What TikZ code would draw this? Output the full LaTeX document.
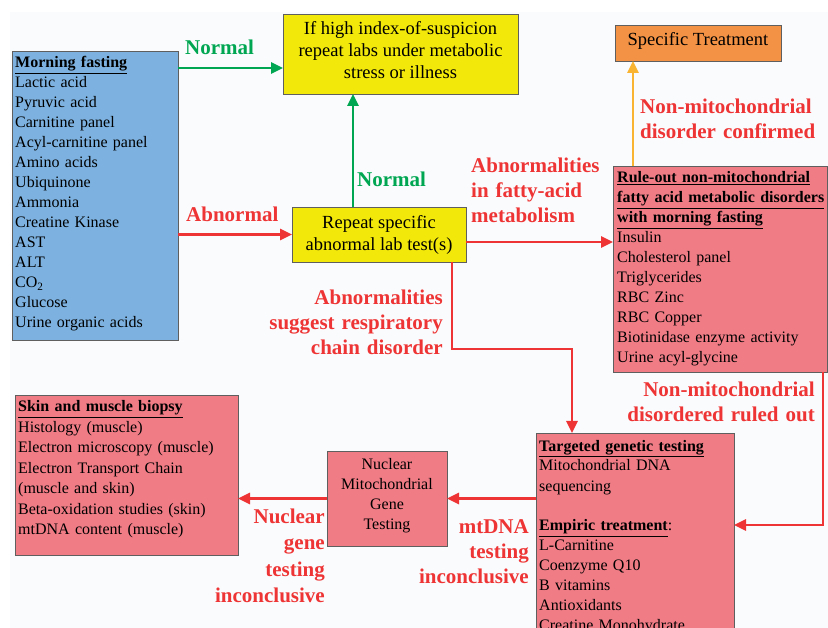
\documentclass[tikz,border=0pt]{standalone}
\usepackage{fontspec}
\setmainfont{Liberation Serif}
\usetikzlibrary{arrows.meta}
\definecolor{bgc}{RGB}{250,251,253}
\definecolor{boxblue}{RGB}{125,178,224}
\definecolor{boxyel}{RGB}{242,232,10}
\definecolor{boxorg}{RGB}{243,146,69}
\definecolor{boxpink}{RGB}{240,124,134}
\definecolor{lblred}{RGB}{238,52,52}
\definecolor{lblgreen}{RGB}{0,166,81}
\definecolor{arrorg}{RGB}{249,180,50}
\definecolor{edgegray}{RGB}{95,95,95}
\tikzset{
  box/.style={draw=edgegray, line width=0.8pt, anchor=north west, inner sep=0pt, outer sep=0pt},
  listtext/.style={anchor=base west, inner sep=0pt, align=left, text width=215pt, font=\fontsize{16}{20}\selectfont},
  ctext/.style={align=center, inner sep=0pt, font=\fontsize{18.5}{22}\selectfont},
  ntext/.style={align=center, inner sep=0pt, font=\fontsize{16}{20}\selectfont},
  lbl/.style={inner sep=0pt, font=\fontsize{21}{25}\selectfont\bfseries},
  lblL/.style={lbl, anchor=base west, align=left, text width=200pt},
  lblR/.style={lbl, anchor=base east, align=right, text width=200pt},
  arr/.style={line width=2.6pt, -{Triangle[length=12pt,width=11pt]}},
  redarr/.style={arr, draw=lblred},
  greenarr/.style={arr, draw=lblgreen},
  orgarr/.style={arr, draw=arrorg},
}
\begin{document}
\begin{tikzpicture}[x=1pt,y=-1pt]
\useasboundingbox (0,0) rectangle (828,628);
\fill[bgc] (10,12) rectangle (828,628);

% boxes
\node[box, fill=boxblue, minimum width=166pt, minimum height=289pt] (morn) at (12,51) {};
\node[box, fill=boxyel, minimum width=235pt, minimum height=80pt] (top) at (283,14) {};
\node[ctext] (topt) at ([yshift=4pt]top.center)
  {If high index-of-suspicion\\repeat labs under metabolic\\stress or illness};
\node[box, fill=boxyel, minimum width=174pt, minimum height=55pt, ctext] (rep) at (292,207)
  {Repeat specific\\abnormal lab test(s)};
\node[box, fill=boxorg, minimum width=166pt, minimum height=36pt] (spec) at (615,25) {};
\node[ctext] (spect) at ([yshift=2pt]spec.center) {Specific Treatment};
\node[box, fill=boxpink, minimum width=214pt, minimum height=206pt] (rule) at (613,166) {};
\node[box, fill=boxpink, minimum width=223pt, minimum height=160pt] (skin) at (15,395) {};
\node[box, fill=boxpink, minimum width=120pt, minimum height=95pt] (nuc) at (327,451) {};
\node[ntext] (nuct) at ([yshift=3pt]nuc.center) {Nuclear\\Mitochondrial\\Gene\\Testing};
\node[box, fill=boxpink, minimum width=198pt, minimum height=200pt] (tgt) at (536,433) {};

% list texts
\node[listtext] (mornt) at (15,68) {\underline{\textbf{Morning fasting}}\\Lactic acid\\Pyruvic acid\\Carnitine panel\\Acyl-carnitine panel\\Amino acids\\Ubiquinone\\Ammonia\\Creatine Kinase\\AST\\ALT\\CO\textsubscript{2}\\Glucose\\Urine organic acids};
\node[listtext] (rulet) at (617,183) {\underline{\textbf{Rule-out non-mitochondrial}}\\\underline{\textbf{fatty acid metabolic disorders}}\\\underline{\textbf{with morning fasting}}\\Insulin\\Cholesterol panel\\Triglycerides\\RBC Zinc\\RBC Copper\\Biotinidase enzyme activity\\Urine acyl-glycine};
\node[listtext, font=\fontsize{16}{20.5}\selectfont] (skint) at (18,412) {\underline{\textbf{Skin and muscle biopsy}}\\Histology (muscle)\\Electron microscopy (muscle)\\Electron Transport Chain\\(muscle and skin)\\Beta-oxidation studies (skin)\\mtDNA content (muscle)};
\node[listtext] (tgtt) at (539,451) {\underline{\textbf{Targeted genetic testing}}\\Mitochondrial DNA\\sequencing\\[20pt]\underline{\textbf{Empiric treatment}}:\\L-Carnitine\\Coenzyme Q10\\B vitamins\\Antioxidants\\Creatine Monohydrate};

% connectors
\coordinate (a1) at ([yshift=-17pt]morn.north east);
\draw[greenarr] (a1) -- (a1 -| top.west);
\draw[redarr] (rep.west -| morn.east) -- (rep.west);
\draw[greenarr] ([xshift=61pt]rep.north west) -- ([xshift=61pt]rep.north west |- top.south);
\coordinate (a2) at ([yshift=20pt]rep.south east);
\draw[redarr] (a2) -- (a2 -| rule.west);
\draw[orgarr] ([xshift=20pt]rule.north west) -- ([xshift=20pt]rule.north west |- spec.south);
\draw[redarr] ([xshift=-14pt]rep.south east) -- ++(0,87) -| ([xshift=36pt]tgt.north west);
\draw[redarr] ([xshift=-4pt]rule.south east) |- ([yshift=-92pt]tgt.north east);
\draw[redarr] (nuc.east -| tgt.west) -- (nuc.east);
\draw[redarr] (nuc.west) -- (nuc.west -| skin.east);

% labels
\node[lblL, text=lblgreen] (l1) at (185,55) {Normal};
\node[lblL, text=lblred] (l2) at (186,222) {Abnormal};
\node[lblL, text=lblgreen] (l3) at (357,187) {Normal};
\node[lblL, text=lblred] (l4) at (471,173) {Abnormalities\\in fatty-acid\\metabolism};
\node[lblL, text=lblred] (l5) at (640,114) {Non-mitochondrial\\disorder confirmed};
\node[lblR, text=lblred] (l6) at (443,305) {Abnormalities\\suggest respiratory\\chain disorder};
\node[lblR, text=lblred] (l7) at (815,397) {Non-mitochondrial\\disordered ruled out};
\node[lblR, text=lblred, font=\fontsize{21}{26.5}\selectfont\bfseries] (l8) at (325,523) {Nuclear\\gene\\testing\\inconclusive};
\node[lblR, text=lblred] (l9) at (529,533) {mtDNA\\testing\\inconclusive};
\end{tikzpicture}
\end{document}
